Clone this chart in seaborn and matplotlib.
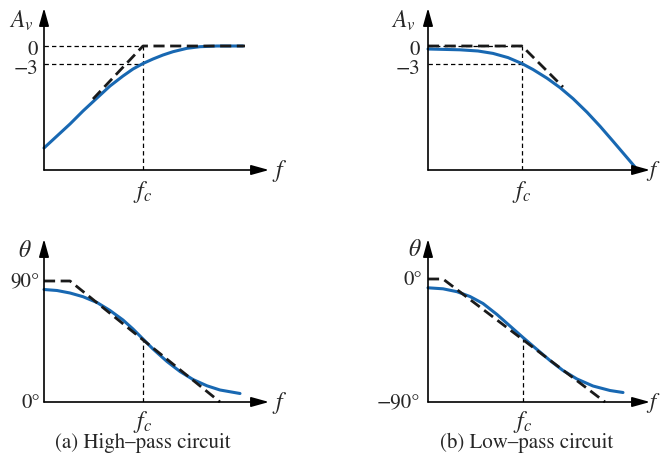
import matplotlib
matplotlib.use("Agg")
import matplotlib.pyplot as plt
import seaborn as sns

# Values read off the reference, in pixel units measured from each panel's origin
# (a) high-pass, magnitude
hp_gain_x = [0, 13, 26, 39, 53, 66, 79, 89, 99, 109, 119, 129, 143, 156, 173, 199]
hp_gain_y = [22, 34, 46, 59, 72, 84, 94, 101, 106.5, 111, 115, 118.3, 121.7, 123.3, 124, 124]
hp_gain_asym_x = [49, 99, 201]
hp_gain_asym_y = [71, 124, 124]
# (a) high-pass, phase
hp_phase_x = [0, 13, 26, 39, 53, 66, 79, 89, 99, 109, 123, 136, 149, 163, 176, 196]
hp_phase_y = [112.5, 111.5, 109, 105.3, 99.5, 91.5, 82, 73, 63, 53, 40.5, 30.5, 22.5, 16.2, 12, 8.5]
hp_phase_asym_x = [0, 26, 176]
hp_phase_asym_y = [121, 121, 0]
# (b) low-pass, magnitude
lp_gain_x = [0, 32, 50, 65, 80, 94, 105, 119, 132, 145, 159, 172, 185, 199, 207]
lp_gain_y = [121, 120.2, 119, 116.6, 112.4, 106.4, 100.5, 91.8, 82.4, 71.4, 57.8, 43.8, 28.8, 12.4, 3]
lp_gain_asym_x = [0, 94, 135]
lp_gain_asym_y = [124, 124, 83]
# (b) low-pass, phase
lp_phase_x = [0, 15, 29, 42, 55, 69, 82, 95, 109, 122, 135, 149, 165, 182, 195]
lp_phase_y = [114.2, 113.2, 110.3, 105.5, 98.5, 87.5, 76, 64.5, 52.5, 41.5, 31.5, 23, 16, 11.5, 9.5]
lp_phase_asym_x = [0, 15, 177]
lp_phase_asym_y = [123, 123, 0]

sns.set_theme(style="white")
plt.rcParams["font.family"] = ["STIXGeneral", "DejaVu Sans"]
plt.rcParams["mathtext.fontset"] = "stix"

W, H = 663, 464
fig = plt.figure(figsize=(W / 100, H / 100), dpi=100)
fig.patch.set_facecolor("white")

BLUE = "#1868b2"
FS = 15    # tick-like labels
LS = 17    # italic symbols


def make_axes(x0, y0, xtip, ytip):
    ax = fig.add_axes([x0 / W, 1 - y0 / H, (xtip - x0) / W, (y0 - ytip) / H])
    ax.set_xlim(0, xtip - x0)
    ax.set_ylim(0, y0 - ytip)
    ax.set_axis_off()
    arrow = dict(arrowstyle="-|>,head_length=0.9,head_width=0.25", color="black",
                 lw=1.2, shrinkA=0, shrinkB=0)
    ax.annotate("", xy=(xtip - x0, 0), xytext=(0, 0), arrowprops=arrow,
                annotation_clip=False)
    ax.annotate("", xy=(0, y0 - ytip), xytext=(0, 0), arrowprops=arrow,
                annotation_clip=False)
    return ax


def draw_curves(ax, cx, cy, ax_x, ax_y):
    sns.lineplot(x=cx, y=cy, ax=ax, color=BLUE, lw=2.2, estimator=None,
                 sort=False, clip_on=False)
    sns.lineplot(x=ax_x, y=ax_y, ax=ax, color="#1a1a1a", lw=2.0, estimator=None,
                 sort=False, linestyle=(0, (4, 2)), clip_on=False)


def txt(ax, x, y, s, ha="center", size=FS):
    ax.text(x, y, s, ha=ha, va="center", fontsize=size, clip_on=False)


guide = dict(colors="black", linestyles=(0, (3.5, 2.5)), lw=0.9)

# ---- top left: high-pass magnitude
ax = make_axes(44, 171, 269, 9)
ax.hlines([124, 106], 0, 99, **guide)
ax.vlines(99, 0, 124, **guide)
draw_curves(ax, hp_gain_x, hp_gain_y, hp_gain_asym_x, hp_gain_asym_y)
txt(ax, -23, 150, r"$A_v$", size=LS)
txt(ax, -6, 121, "0", ha="right")
txt(ax, -6, 102, "\u22123", ha="right")
txt(ax, 236, 0, r"$f$", size=LS)
txt(ax, 99, -21, r"$f_c$", size=LS)

# ---- top right: low-pass magnitude
ax = make_axes(428, 171, 650, 9)
ax.hlines([124, 106], 0, 94, **guide)
ax.vlines(94, 0, 124, **guide)
draw_curves(ax, lp_gain_x, lp_gain_y, lp_gain_asym_x, lp_gain_asym_y)
txt(ax, -25, 150, r"$A_v$", size=LS)
txt(ax, -8, 121, "0", ha="right")
txt(ax, -8, 102, "\u22123", ha="right")
txt(ax, 225, 0, r"$f$", size=16)
txt(ax, 94, -21, r"$f_c$", size=LS)

# ---- bottom left: high-pass phase
ax = make_axes(44, 403, 269, 240)
ax.vlines(99, 0, 63, **guide)
draw_curves(ax, hp_phase_x, hp_phase_y, hp_phase_asym_x, hp_phase_asym_y)
txt(ax, -19, 152, r"$\theta$", size=LS)
txt(ax, -4, 121, "90\u00b0", ha="right")
txt(ax, -4, 0, "0\u00b0", ha="right")
txt(ax, 236, 0, r"$f$", size=LS)
txt(ax, 99, -19, r"$f_c$", size=LS)

# ---- bottom right: low-pass phase
ax = make_axes(428, 403, 650, 240)
ax.vlines(95, 0, 64.5, **guide)
draw_curves(ax, lp_phase_x, lp_phase_y, lp_phase_asym_x, lp_phase_asym_y)
txt(ax, -13, 153, r"$\theta$", size=LS)
txt(ax, -6, 123, "0\u00b0", ha="right")
txt(ax, -8, 0, "\u221290\u00b0", ha="right")
txt(ax, 225, 0, r"$f$", size=16)
txt(ax, 95, -19, r"$f_c$", size=LS)

fig.text(143 / W, 1 - 443 / H, "(a) High\u2013pass circuit", ha="center", va="center",
         fontsize=15)
fig.text(527 / W, 1 - 443 / H, "(b) Low\u2013pass circuit", ha="center", va="center",
         fontsize=15)

fig.savefig("out.png", dpi=100, facecolor="white")
